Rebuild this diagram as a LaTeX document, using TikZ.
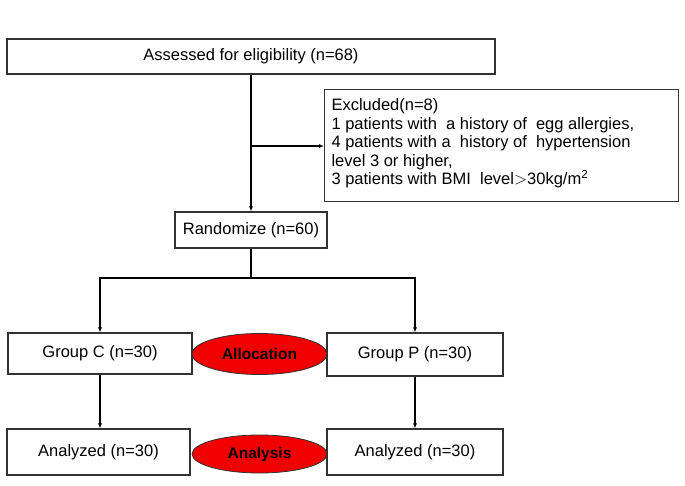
\documentclass[tikz,border=0pt]{standalone}
\usepackage{fontspec}
\setmainfont{Liberation Sans}
\usepackage{tikz}
\usetikzlibrary{shapes.geometric, arrows.meta, positioning, calc}
\definecolor{darkgray}{RGB}{50, 50, 50}
\definecolor{stagered}{RGB}{240, 0, 0}

\begin{document}
\begin{tikzpicture}[
    x=1pt, y=-1pt,
    flowbox/.style={draw=darkgray, line width=1.1pt, fill=white, inner sep=0pt, font=\fontsize{16.5}{18.5}\selectfont},
    stage/.style={draw=darkgray, line width=0.8pt, ellipse, fill=stagered, inner sep=0pt, font=\fontsize{15.5}{18}\selectfont\bfseries},
    link/.style={line width=1.1pt, -{Latex[length=5pt, width=4pt]}}
]
    \useasboundingbox (0,0) rectangle (685,486);

    % Enrolment (top)
    \node[flowbox, minimum width=488pt, minimum height=35pt] (assessed) at (251, 56.5) {Assessed for eligibility (n=68)};
    \node[flowbox, anchor=north west, inner xsep=7pt, inner ysep=9pt] (excluded) at (324, 89)
        {\parbox[c][94pt][t]{340pt}{\raggedright Excluded(n=8)\\
        1 patients with\ \ a history of\ \ egg allergies,\\
        4 patients with a\ \ history of\ \ hypertension\\
        level 3 or higher,\\
        3 patients with BMI\ \ level\raisebox{0.5pt}{$>$}30kg/m\textsuperscript{2}}};
    \node[flowbox, minimum width=152pt, minimum height=36pt] (randomize) at (251, 230) {Randomize (n=60)};

    % Allocation (middle)
    \node[flowbox, minimum width=184pt, minimum height=41pt] (groupC) at (100, 353.5) {Group C (n=30)};
    \node[flowbox, minimum width=176pt, minimum height=43pt] (groupP) at (415, 354.5) {Group P (n=30)};
    \node[stage, minimum width=135pt, minimum height=41pt] (allocation) at (259.5, 354) {Allocation};

    % Analysis (bottom)
    \node[flowbox, minimum width=183pt, minimum height=46pt] (anaC) at (98.5, 452) {Analyzed (n=30)};
    \node[flowbox, minimum width=176pt, minimum height=46pt] (anaP) at (415, 452) {Analyzed (n=30)};
    \node[stage, minimum width=135pt, minimum height=38pt] (analysis) at (259.5, 454) {Analysis};

    % Connections
    \coordinate (split) at (251, 146);
    \coordinate (branch) at (251, 278);
    \draw[link] (assessed.south) -- (randomize.north);
    \draw[link] (split) -- (split -| excluded.west);
    \draw[line width=1.1pt] (randomize.south) -- (branch);
    \draw[link] (branch) -| (groupC.north);
    \draw[link] (branch) -| (groupP.north);
    \draw[link] (groupC) -- (groupC |- anaC.north);
    \draw[link] (groupP) -- (anaP);

\end{tikzpicture}
\end{document}
